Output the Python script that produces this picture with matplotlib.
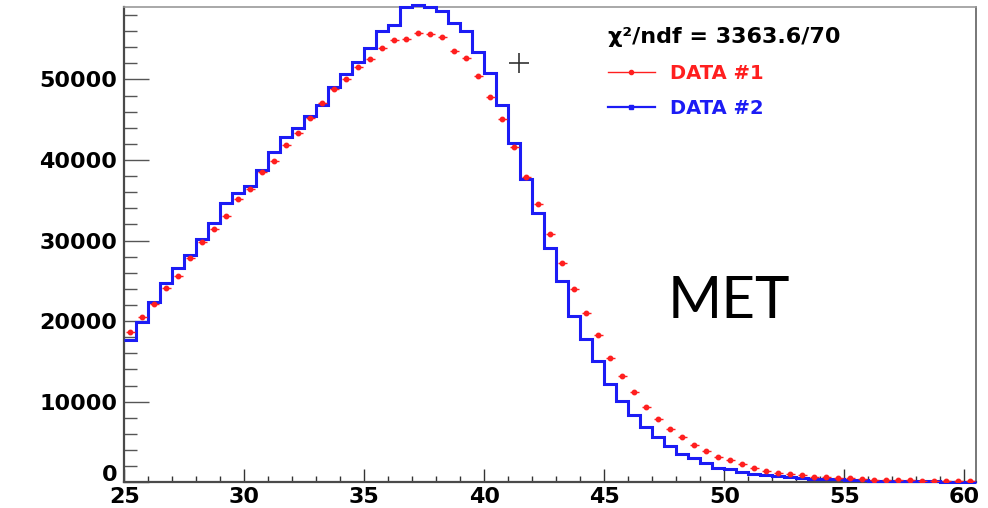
import numpy as np
import matplotlib
matplotlib.use('Agg')
import matplotlib.pyplot as plt
from matplotlib.lines import Line2D
from matplotlib.ticker import MultipleLocator
from matplotlib.font_manager import FontProperties

# ---- data -------------------------------------------------------------
x_min = 25.0
bin_width = 0.5
data1 = [18600, 20510, 22160, 24070, 25600, 27870, 29780, 31400, 33010, 35120,
         36360, 38470, 39910, 41900, 43380, 45170, 47070, 48850, 50090, 51540,
         52530, 53860, 54850, 55050, 55800, 55600, 55230, 53560, 52660, 50420,
         47850, 45120, 41570, 37920, 34500, 30780, 27220, 23990, 20970, 18320,
         15430, 13230, 11150, 9380, 7840, 6580, 5580, 4670, 3880, 3180,
         2770, 2230, 1770, 1370, 1190, 1030, 870, 700, 600, 520,
         480, 400, 340, 300, 260, 230, 200, 180, 160, 140, 120]
data2 = [17660, 19930, 22380, 24770, 26560, 28210, 30200, 32220, 34620, 35860,
         36810, 38720, 40950, 42850, 43930, 45460, 46820, 49020, 50670, 52120,
         53930, 56040, 56750, 59020, 59270, 59020, 58530, 57040, 56040, 53440,
         50830, 46820, 42070, 37600, 33380, 29040, 25020, 20640, 17750, 15050,
         12240, 10130, 8330, 6860, 5660, 4460, 3510, 3050, 2360, 1810,
         1610, 1320, 1030, 870, 780, 700, 530, 450, 400, 350,
         300, 260, 220, 190, 160, 140, 120, 100, 90, 80, 70]
labels = ["DATA #1", "DATA #2"]
chi2_text = "χ²/ndf = 3363.6/70"
x_ticks = [25, 30, 35, 40, 45, 50, 55, 60]
y_ticks = [0, 10000, 20000, 30000, 40000, 50000]
overlay_text = "MET"

# ---- figure -----------------------------------------------------------
W, H = 988, 508
fig = plt.figure(figsize=(W / 100, H / 100), dpi=100)
ax = fig.add_axes([124.3 / W, 1 - 482.3 / H, (976.3 - 124.3) / W, (482.3 - 7.3) / H])

n = len(data2)
edges = x_min + bin_width * np.arange(n + 1)
centers = 0.5 * (edges[:-1] + edges[1:])

blue = '#1c1cf5'
red = '#ff1f1f'

ax.stairs(data2, edges, color=blue, lw=2.2, baseline=None, clip_on=False, zorder=3)
ax.errorbar(centers, data1, xerr=0.19, fmt='o', color=red, ms=3.2,
            elinewidth=1.0, capsize=0, zorder=4)

ax.set_xlim(25, 60.5)
ax.set_ylim(0, 58950)

ax.set_xticks(x_ticks)
ax.set_yticks(y_ticks)
ax.xaxis.set_minor_locator(MultipleLocator(1))
ax.yaxis.set_minor_locator(MultipleLocator(2000))
ax.set_xticklabels([str(v) for v in x_ticks])
# the "0" label is drawn separately, lifted slightly above the "25"
ax.set_yticklabels(['' if v == 0 else str(v) for v in y_ticks])

tick_fp = FontProperties(family='DejaVu Sans', weight='bold', size=16)
for lab in ax.get_xticklabels() + ax.get_yticklabels():
    lab.set_fontproperties(tick_fp)

ax.annotate(str(y_ticks[0]), xy=(0, 0), xycoords='axes fraction',
            xytext=(-5, 5), textcoords='offset points', ha='right', va='center',
            fontproperties=tick_fp)

ax.tick_params(axis='y', which='major', direction='in', length=18, width=1.0,
               color='#555555', pad=5, left=True, right=False)
ax.tick_params(axis='y', which='minor', direction='in', length=9.4, width=1.0,
               color='#555555', left=True, right=False)
ax.tick_params(axis='x', which='major', direction='in', length=9.5, width=1.0,
               color='#333333', pad=3.5, bottom=True, top=False)
ax.tick_params(axis='x', which='minor', direction='in', length=4.5, width=1.0,
               color='#333333', bottom=True, top=False)

for s in ['left', 'bottom']:
    ax.spines[s].set_color('#4a4a4a')
    ax.spines[s].set_linewidth(1.6)
for s in ['top', 'right']:
    ax.spines[s].set_color('#9a9a9a')
    ax.spines[s].set_linewidth(1.2)
ax.spines['right'].set_color('#606060')

# legend
handles = [Line2D([], [], color=red, lw=1.0, marker='o', ms=3),
           Line2D([], [], color=blue, lw=1.6, marker='s', ms=2.5)]
leg = ax.legend(handles, labels, loc='upper left',
                bbox_to_anchor=(608 / W, 1 - 27 / H), bbox_transform=fig.transFigure,
                frameon=False, title=chi2_text, alignment='left',
                prop=dict(family='DejaVu Sans', weight='bold', size=14),
                title_fontproperties=dict(family='DejaVu Sans', weight='bold', size=16),
                handlelength=2.4, handletextpad=0.8, labelspacing=0.85,
                borderpad=0, borderaxespad=0)
for t, c in zip(leg.get_texts(), [red, blue]):
    t.set_color(c)

# cursor cross in the screenshot
ax.plot([0.4636], [0.882], transform=ax.transAxes, marker='+', ms=15,
        mew=1.2, color='#333333', linestyle='none', clip_on=False)

fig.text(668 / W, 1 - 318 / H, overlay_text, family='Lato', size=42,
         color='black', ha='left', va='baseline')

fig.savefig('out.png', dpi=100)
